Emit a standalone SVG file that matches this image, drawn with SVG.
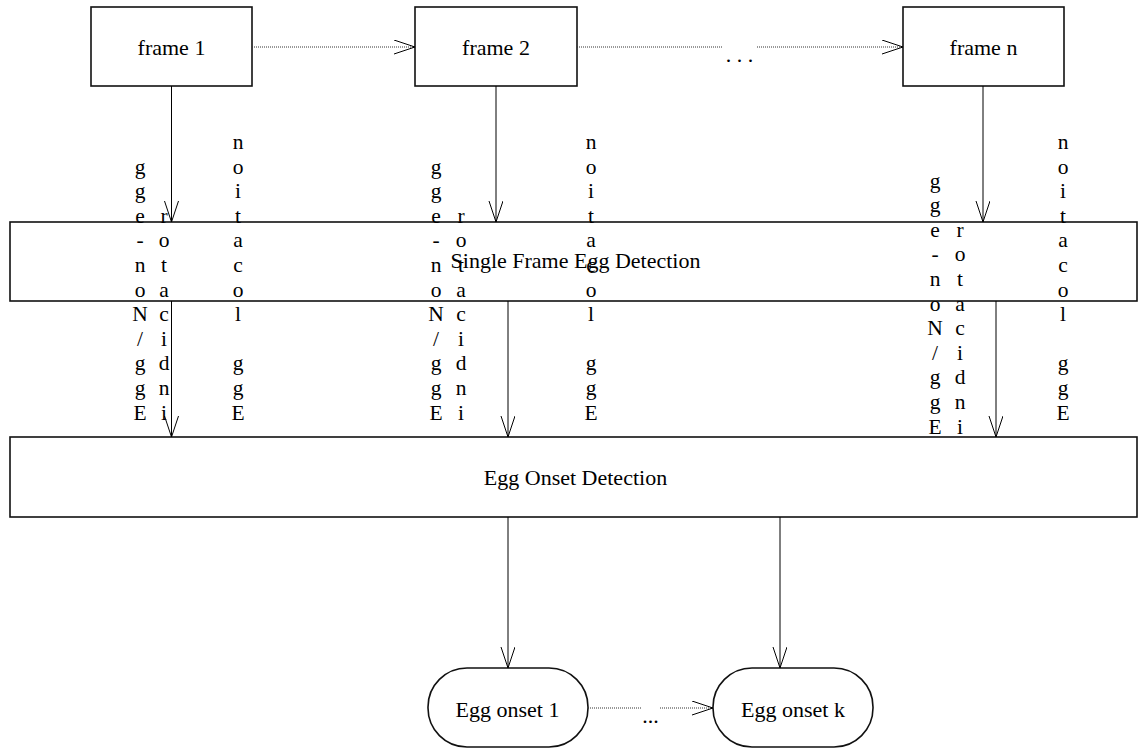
<svg xmlns="http://www.w3.org/2000/svg" width="1147" height="750" viewBox="0 0 1147 750">
  <style>
    .box { fill: #fff; stroke: #111; stroke-width: 1.6; }
    .lbl { font-family: "Liberation Serif", "Times New Roman", serif; font-size: 22px; fill: #000; text-anchor: middle; }
    .vt { font-family: "Liberation Serif", "Times New Roman", serif; font-size: 21.5px; fill: #000; text-anchor: middle; }
    .flow { fill: none; stroke: #000; stroke-width: 1; }
    .dot { fill: none; stroke: #333; stroke-width: 1; stroke-dasharray: 1 1; }
  </style>
  <defs>
    <marker id="vee" markerUnits="userSpaceOnUse" markerWidth="24" markerHeight="16" refX="21" refY="7" orient="auto">
      <path d="M0,0 L21,7 L0,14" fill="none" stroke="#000" stroke-width="1"/>
    </marker>
  </defs>

  <rect width="1147" height="750" fill="#fff"/>

  <!-- processing stages -->
  <g id="single-frame">
    <rect class="box" x="10" y="222" width="1127" height="79"/>
  </g>
  <g id="onset-detection">
    <rect class="box" x="10" y="437" width="1127" height="80"/>
    <text class="lbl" x="575.5" y="485">Egg Onset Detection</text>
  </g>

  <!-- input frames -->
  <g id="frame-1">
    <rect class="box" x="91" y="7" width="161" height="79"/>
    <text class="lbl" x="171.5" y="54.5">frame 1</text>
  </g>
  <g id="frame-2">
    <rect class="box" x="415" y="7" width="162" height="79"/>
    <text class="lbl" x="496" y="54.5">frame 2</text>
  </g>
  <g id="frame-n">
    <rect class="box" x="903" y="7" width="161" height="79"/>
    <text class="lbl" x="983.5" y="54.5">frame n</text>
  </g>

  <!-- detected onsets -->
  <g id="onset-1">
    <rect class="box" x="428" y="668" width="160" height="79" rx="39" ry="39"/>
    <text class="lbl" x="507.5" y="717">Egg onset 1</text>
  </g>
  <g id="onset-k">
    <rect class="box" x="713" y="668" width="160" height="79" rx="39" ry="39"/>
    <text class="lbl" x="793" y="717">Egg onset k</text>
  </g>

  <!-- connectors -->
  <g id="connectors">
    <path class="dot" d="M252,47 L415,47" marker-end="url(#vee)"/>
    <path class="dot" d="M577,47 L722,47"/>
    <path class="dot" d="M757,47 L903,47" marker-end="url(#vee)"/>
    <text class="lbl" x="739.5" y="62">. . .</text>

    <path class="flow" d="M171.5,86 L171.5,222" marker-end="url(#vee)"/>
    <path class="flow" d="M171.5,301 L171.5,437" marker-end="url(#vee)"/>
    <path class="flow" d="M496,86 L496,222" marker-end="url(#vee)"/>
    <path class="flow" d="M508,301 L508,437" marker-end="url(#vee)"/>
    <path class="flow" d="M983,86 L983,222" marker-end="url(#vee)"/>
    <path class="flow" d="M996,301 L996,437" marker-end="url(#vee)"/>

    <path class="flow" d="M508,517 L508,668" marker-end="url(#vee)"/>
    <path class="flow" d="M780,517 L780,668" marker-end="url(#vee)"/>

    <path class="dot" d="M588,708 L641,708"/>
    <path class="dot" d="M660,708 L713,708" marker-end="url(#vee)"/>
    <text class="lbl" x="650.5" y="723">...</text>
  </g>

  <!-- stage label drawn over the connector labels -->
  <text class="lbl" x="575.5" y="268">Single Frame Egg Detection</text>

  <!-- stacked connector labels, frame 1 -->
  <g id="labels-frame-1">
    <text class="vt" x="140" y="173.5"><tspan x="140">g</tspan><tspan x="140" dy="24.6">g</tspan><tspan x="140" dy="24.6">e</tspan><tspan x="140" dy="24.6">-</tspan><tspan x="140" dy="24.6">n</tspan><tspan x="140" dy="24.6">o</tspan><tspan x="140" dy="24.6">N</tspan><tspan x="140" dy="24.6">/</tspan><tspan x="140" dy="24.6">g</tspan><tspan x="140" dy="24.6">g</tspan><tspan x="140" dy="24.6">E</tspan></text>
    <text class="vt" x="164" y="222.7"><tspan x="164">r</tspan><tspan x="164" dy="24.6">o</tspan><tspan x="164" dy="24.6">t</tspan><tspan x="164" dy="24.6">a</tspan><tspan x="164" dy="24.6">c</tspan><tspan x="164" dy="24.6">i</tspan><tspan x="164" dy="24.6">d</tspan><tspan x="164" dy="24.6">n</tspan><tspan x="164" dy="24.6">i</tspan></text>
    <text class="vt" x="238" y="148.9"><tspan x="238">n</tspan><tspan x="238" dy="24.6">o</tspan><tspan x="238" dy="24.6">i</tspan><tspan x="238" dy="24.6">t</tspan><tspan x="238" dy="24.6">a</tspan><tspan x="238" dy="24.6">c</tspan><tspan x="238" dy="24.6">o</tspan><tspan x="238" dy="24.6">l</tspan><tspan x="238" dy="49.2">g</tspan><tspan x="238" dy="24.6">g</tspan><tspan x="238" dy="24.6">E</tspan></text>
  </g>

  <!-- stacked connector labels, frame 2 -->
  <g id="labels-frame-2">
    <text class="vt" x="436" y="173.5"><tspan x="436">g</tspan><tspan x="436" dy="24.6">g</tspan><tspan x="436" dy="24.6">e</tspan><tspan x="436" dy="24.6">-</tspan><tspan x="436" dy="24.6">n</tspan><tspan x="436" dy="24.6">o</tspan><tspan x="436" dy="24.6">N</tspan><tspan x="436" dy="24.6">/</tspan><tspan x="436" dy="24.6">g</tspan><tspan x="436" dy="24.6">g</tspan><tspan x="436" dy="24.6">E</tspan></text>
    <text class="vt" x="461" y="222.7"><tspan x="461">r</tspan><tspan x="461" dy="24.6">o</tspan><tspan x="461" dy="24.6">t</tspan><tspan x="461" dy="24.6">a</tspan><tspan x="461" dy="24.6">c</tspan><tspan x="461" dy="24.6">i</tspan><tspan x="461" dy="24.6">d</tspan><tspan x="461" dy="24.6">n</tspan><tspan x="461" dy="24.6">i</tspan></text>
    <text class="vt" x="591" y="148.9"><tspan x="591">n</tspan><tspan x="591" dy="24.6">o</tspan><tspan x="591" dy="24.6">i</tspan><tspan x="591" dy="24.6">t</tspan><tspan x="591" dy="24.6">a</tspan><tspan x="591" dy="24.6">c</tspan><tspan x="591" dy="24.6">o</tspan><tspan x="591" dy="24.6">l</tspan><tspan x="591" dy="49.2">g</tspan><tspan x="591" dy="24.6">g</tspan><tspan x="591" dy="24.6">E</tspan></text>
  </g>

  <!-- stacked connector labels, frame n -->
  <g id="labels-frame-n">
    <text class="vt" x="935" y="187.5"><tspan x="935">g</tspan><tspan x="935" dy="24.6">g</tspan><tspan x="935" dy="24.6">e</tspan><tspan x="935" dy="24.6">-</tspan><tspan x="935" dy="24.6">n</tspan><tspan x="935" dy="24.6">o</tspan><tspan x="935" dy="24.6">N</tspan><tspan x="935" dy="24.6">/</tspan><tspan x="935" dy="24.6">g</tspan><tspan x="935" dy="24.6">g</tspan><tspan x="935" dy="24.6">E</tspan></text>
    <text class="vt" x="960" y="236.7"><tspan x="960">r</tspan><tspan x="960" dy="24.6">o</tspan><tspan x="960" dy="24.6">t</tspan><tspan x="960" dy="24.6">a</tspan><tspan x="960" dy="24.6">c</tspan><tspan x="960" dy="24.6">i</tspan><tspan x="960" dy="24.6">d</tspan><tspan x="960" dy="24.6">n</tspan><tspan x="960" dy="24.6">i</tspan></text>
    <text class="vt" x="1063" y="148.9"><tspan x="1063">n</tspan><tspan x="1063" dy="24.6">o</tspan><tspan x="1063" dy="24.6">i</tspan><tspan x="1063" dy="24.6">t</tspan><tspan x="1063" dy="24.6">a</tspan><tspan x="1063" dy="24.6">c</tspan><tspan x="1063" dy="24.6">o</tspan><tspan x="1063" dy="24.6">l</tspan><tspan x="1063" dy="49.2">g</tspan><tspan x="1063" dy="24.6">g</tspan><tspan x="1063" dy="24.6">E</tspan></text>
  </g>
</svg>
